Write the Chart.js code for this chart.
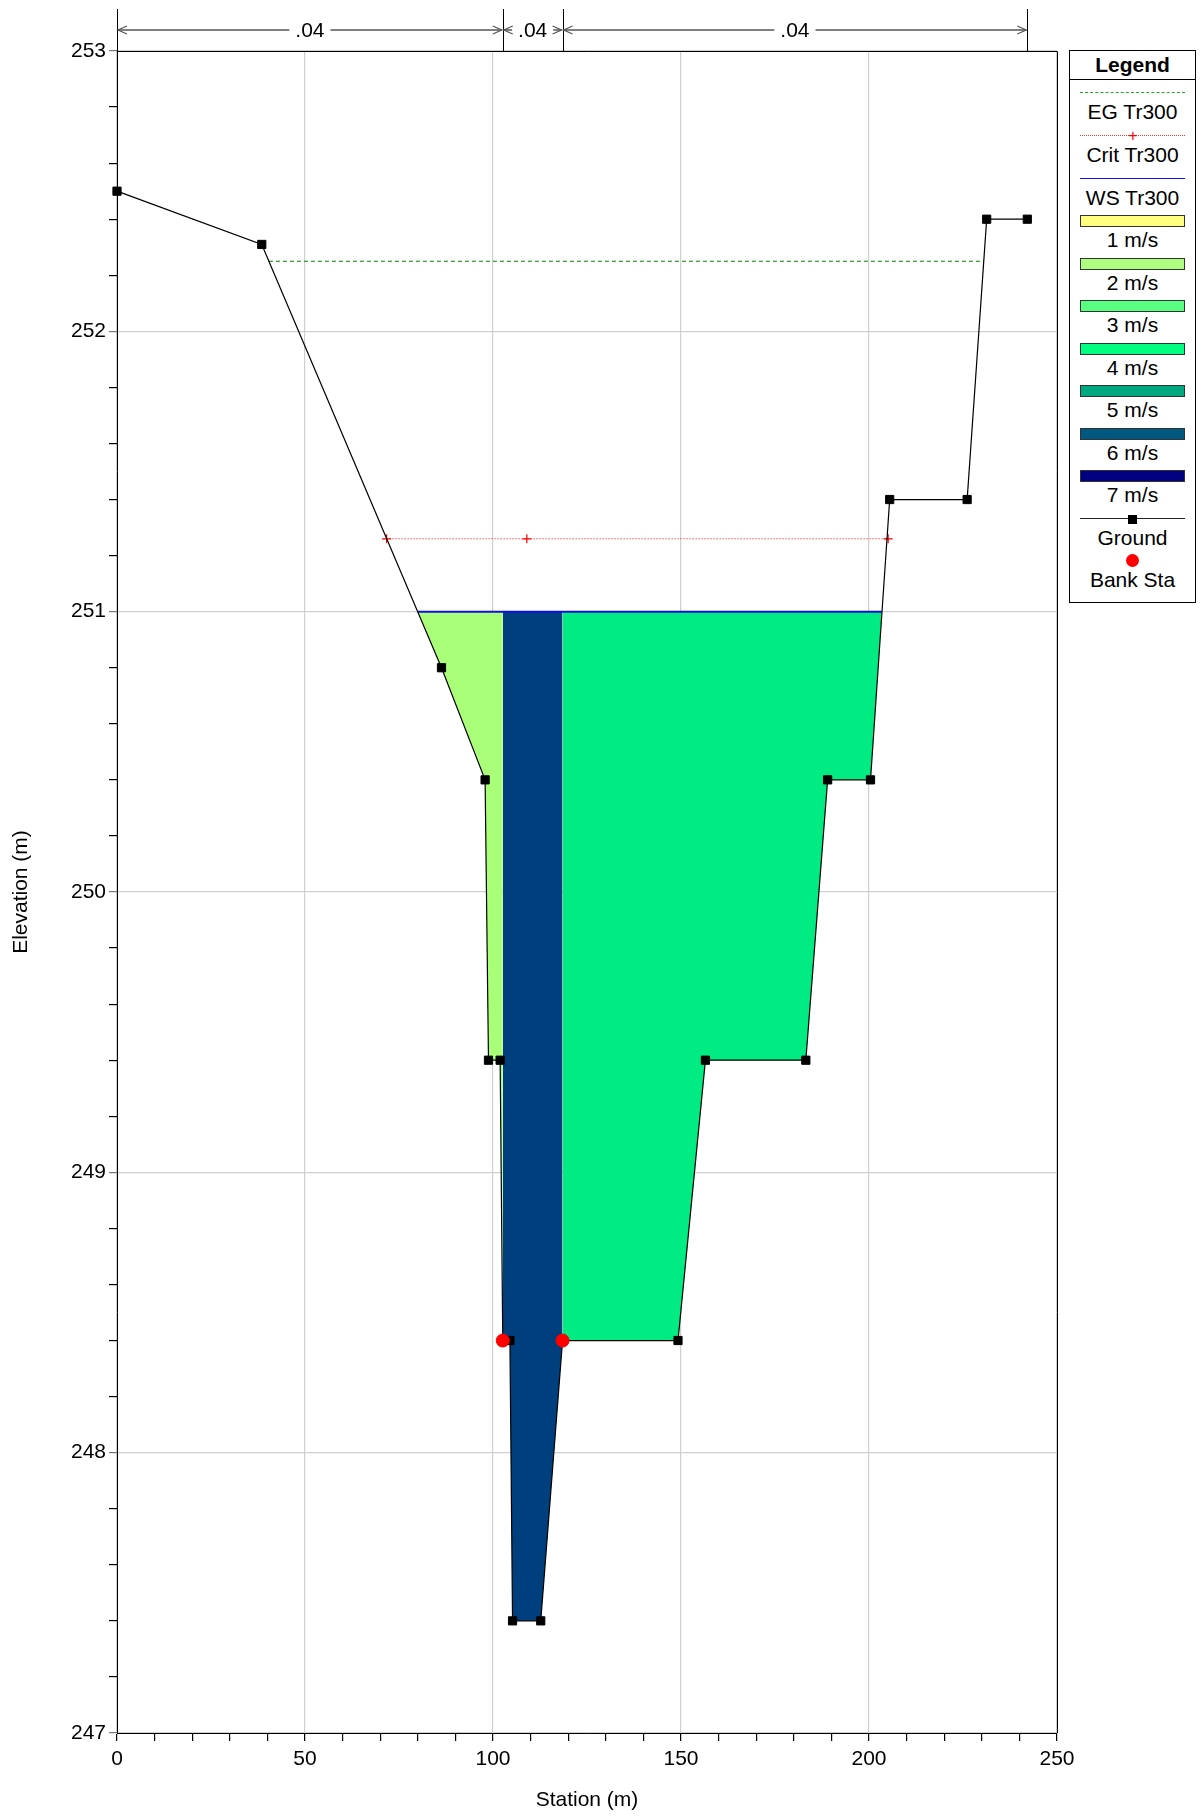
<!DOCTYPE html>
<html>
<head>
<meta charset="utf-8">
<script src="https://cdn.jsdelivr.net/npm/chart.js@4.4.1/dist/chart.umd.min.js"></script>
<style>
  html, body { margin: 0; padding: 0; background: #fff; }
  #wrap { position: relative; width: 1204px; height: 1816px; }
  #chart { position: absolute; left: 0; top: 0; }
  #legend {
    position: absolute; left: 1069px; top: 50px; width: 127px; height: 553px;
    border: 1px solid #000; box-sizing: border-box; background: #fff;
    font-family: 'Liberation Sans', Arial, sans-serif; font-size: 21px; color: #000;
  }
  #legend .head { height: 28px; line-height: 28px; text-align: center; font-weight: bold; border-bottom: 1px solid #000; }
  #legend .item { position: absolute; left: 0; width: 100%; height: 42px; }
  #legend .sw { position: absolute; left: 10px; width: 105px; }
  #legend .lbl { position: absolute; left: 0; width: 100%; top: 18px; height: 22px; line-height: 22px; text-align: center; }
</style>
</head>
<body>
<div id="wrap">
  <canvas id="chart" width="1204" height="1816"></canvas>
  <div id="legend"><div class="head">Legend</div></div>
</div>
<script>
// Cross section plot: ground profile, water surface, EG and critical lines,
// velocity fill zones between bank stations.

// ── data ─────────────────────────────────────────────────────────────────────
const groundSta  = [0, 38.5, 86.3, 97.9, 98.8, 101.9, 102.6, 104.5, 105.2, 112.7,
                    118.5, 149.2, 156.5, 183.2, 189.0, 200.4, 205.5, 226.1, 231.3, 242.1];
const groundElev = [252.50, 252.31, 250.80, 250.40, 249.40, 249.40, 248.40, 248.40, 247.40, 247.40,
                    248.40, 248.40, 249.40, 249.40, 250.40, 250.40, 251.40, 251.40, 252.40, 252.40];

const bankSta  = [102.6, 118.5];
const bankElev = [248.40, 248.40];

const wsElev   = 251.00;
const wsSta    = [79.9, 203.4];
const egElev   = 252.25;
const egSta    = [40.4, 230.5];
const critElev = 251.26;
const critSta  = [71.7, 109.0, 205.1];

// Manning's n across the section
const nBreaks = [0, 102.6, 118.5, 242.1];
const nValues = [".04", ".04", ".04"];

// fill colour for left overbank / channel / right overbank
const zoneColors = ["#AAFF78", "#003F7D", "#00EB81"];

// legend
const velLabels = ["1 m/s", "2 m/s", "3 m/s", "4 m/s", "5 m/s", "6 m/s", "7 m/s"];
const velColors = ["#FFFF80", "#AEFF80", "#58FF80", "#00FF80", "#00A880", "#005880", "#000080"];

const FONT = "'Liberation Sans', Arial, sans-serif";
Chart.defaults.font.family = FONT;
Chart.defaults.font.size = 21;
Chart.defaults.color = "#000";

// ── build zones from the ground profile ──────────────────────────────────────
const ground = groundSta.map((s, i) => ({ x: s, y: groundElev[i] }));

const leftZone = [{ x: wsSta[0], y: wsElev }]
  .concat(ground.filter(p => p.x > wsSta[0] && p.x <= bankSta[0]));
const channelZone = ground.filter(p => p.x >= bankSta[0] && p.x <= bankSta[1]);
const rightZone = ground.filter(p => p.x >= bankSta[1] && p.x < wsSta[1])
  .concat([{ x: wsSta[1], y: wsElev }]);

function zoneDataset(data, color) {
  return {
    data, showLine: true, borderWidth: 0, pointRadius: 0,
    backgroundColor: color, fill: { value: wsElev }, order: 10,
  };
}

// ── plugins: plot frame + Manning's n bar across the top ─────────────────────
const framePlugin = {
  id: "frame",
  afterDraw(chart) {
    const { ctx, chartArea: a } = chart;
    ctx.save();
    ctx.strokeStyle = "#000";
    ctx.lineWidth = 1;
    ctx.beginPath();
    ctx.moveTo(a.left, a.top + 0.5);
    ctx.lineTo(a.right + 0.5, a.top + 0.5);
    ctx.lineTo(a.right + 0.5, a.bottom);
    ctx.stroke();
    ctx.restore();
  },
};

const nBarPlugin = {
  id: "nbar",
  afterDraw(chart) {
    const { ctx, chartArea: a } = chart;
    const xs = chart.scales.x;
    const yBar = 30, yTop = 9;
    ctx.save();
    ctx.font = "21px " + FONT;
    ctx.textAlign = "center";
    ctx.textBaseline = "middle";

    // vertical separators
    ctx.strokeStyle = "#000";
    ctx.lineWidth = 1;
    nBreaks.forEach(b => {
      const px = Math.round(xs.getPixelForValue(b)) + 0.5;
      ctx.beginPath();
      ctx.moveTo(px, yTop);
      ctx.lineTo(px, a.top);
      ctx.stroke();
    });

    nValues.forEach((txt, i) => {
      const x1 = xs.getPixelForValue(nBreaks[i]) + 1;
      const x2 = xs.getPixelForValue(nBreaks[i + 1]) - 1;
      const mid = (x1 + x2) / 2;
      const half = ctx.measureText(txt).width / 2 + 6;
      ctx.strokeStyle = "#808080";
      ctx.lineWidth = 2;
      ctx.beginPath();
      ctx.moveTo(x1, yBar); ctx.lineTo(mid - half, yBar);
      ctx.moveTo(mid + half, yBar); ctx.lineTo(x2, yBar);
      ctx.stroke();
      // open arrowheads
      ctx.lineWidth = 1.2;
      ctx.strokeStyle = "#555";
      ctx.beginPath();
      ctx.moveTo(x1 + 9, yBar - 4); ctx.lineTo(x1, yBar); ctx.lineTo(x1 + 9, yBar + 4);
      ctx.moveTo(x2 - 9, yBar - 4); ctx.lineTo(x2, yBar); ctx.lineTo(x2 - 9, yBar + 4);
      ctx.stroke();
      ctx.fillStyle = "#000";
      ctx.fillText(txt, mid, yBar + 1);
    });
    ctx.restore();
  },
};

const isInt = v => Math.abs(v - Math.round(v)) < 1e-6;

new Chart(document.getElementById("chart"), {
  type: "scatter",
  data: {
    datasets: [
      {
        label: "Bank Sta",
        data: bankSta.map((s, i) => ({ x: s, y: bankElev[i] })),
        pointStyle: "circle", pointRadius: 6.5,
        pointBackgroundColor: "#FF0000", pointBorderColor: "#FF0000",
        order: 0, clip: 12,
      },
      {
        label: "Ground",
        data: ground, showLine: true,
        borderColor: "#000", borderWidth: 1.2,
        pointStyle: "rect", pointRadius: 5.8,
        pointBackgroundColor: "#000", pointBorderColor: "#000", pointBorderWidth: 1,
        order: 1, clip: 12,
      },
      {
        label: "Crit Tr300",
        data: critSta.map(s => ({ x: s, y: critElev })), showLine: true,
        borderColor: "#FF0000", borderWidth: 1, borderDash: [1, 2],
        pointStyle: "cross", pointRadius: 4.5,
        pointBorderColor: "#FF0000", pointBorderWidth: 1.2,
        order: 3,
      },
      {
        label: "WS Tr300",
        data: wsSta.map(s => ({ x: s, y: wsElev })), showLine: true,
        borderColor: "#1010E0", borderWidth: 2, pointRadius: 0,
        order: 4,
      },
      {
        label: "EG Tr300",
        data: egSta.map(s => ({ x: s, y: egElev })), showLine: true,
        borderColor: "#008000", borderWidth: 1.2, borderDash: [4, 3], pointRadius: 0,
        order: 4,
      },
      zoneDataset(leftZone, zoneColors[0]),
      zoneDataset(channelZone, zoneColors[1]),
      zoneDataset(rightZone, zoneColors[2]),
    ],
  },
  options: {
    responsive: false,
    animation: false,
    layout: { padding: { top: 51, right: 147, bottom: 0, left: 0 } },
    plugins: { legend: { display: false }, tooltip: { enabled: false } },
    scales: {
      x: {
        type: "linear", min: 0, max: 250,
        afterFit: s => { s.height = 83; },
        border: { color: "#000", width: 1 },
        grid: {
          color: c => (c.tick && c.tick.value % 50 === 0) ? "#CFCFCF" : "rgba(0,0,0,0)",
          tickColor: "#000", tickLength: 8, lineWidth: 1.2,
        },
        ticks: {
          stepSize: 10, autoSkip: false, maxRotation: 0, padding: 6,
          callback: v => (v % 50 === 0 ? String(v) : ""),
        },
        title: { display: true, text: "Station (m)", padding: { top: 0, bottom: 3 } },
      },
      y: {
        type: "linear", min: 247, max: 253,
        afterFit: s => { s.width = 117; },
        border: { color: "#000", width: 1 },
        grid: {
          color: c => (c.tick && isInt(c.tick.value)) ? "#CFCFCF" : "rgba(0,0,0,0)",
          tickColor: c => (c.tick && isInt(c.tick.value)) ? "#777" : "#000",
          tickLength: 8, lineWidth: 1.2,
        },
        ticks: {
          stepSize: 0.2, autoSkip: false, padding: 3,
          callback: v => (isInt(v) ? String(Math.round(v)) : ""),
        },
        title: { display: true, text: "Elevation (m)", padding: { top: 9, bottom: 0 } },
      },
    },
  },
  plugins: [framePlugin, nBarPlugin],
});

// ── legend box ───────────────────────────────────────────────────────────────
const legendBox = document.getElementById("legend");
const items = [
  { label: "EG Tr300", kind: "dash" },
  { label: "Crit Tr300", kind: "crit" },
  { label: "WS Tr300", kind: "ws" },
  ...velLabels.map((l, i) => ({ label: l, kind: "box", color: velColors[i] })),
  { label: "Ground", kind: "ground" },
  { label: "Bank Sta", kind: "bank" },
];
items.forEach((it, i) => {
  const el = document.createElement("div");
  el.className = "item";
  el.style.top = (32.4 + i * 42.55) + "px";
  let sw = "";
  if (it.kind === "dash") {
    sw = '<div class="sw" style="top:9px;border-top:1.5px dashed #22AA22"></div>';
  } else if (it.kind === "crit") {
    sw = '<div class="sw" style="top:9px;border-top:1px dotted #FF3030"></div>' +
         '<div style="position:absolute;left:58px;top:0;width:10px;height:20px;line-height:20px;color:#F00;font-size:16px;text-align:center">+</div>';
  } else if (it.kind === "ws") {
    sw = '<div class="sw" style="top:9px;border-top:1.5px solid #1010E0"></div>';
  } else if (it.kind === "box") {
    sw = '<div class="sw" style="top:4px;height:12px;box-sizing:border-box;border:1px solid #333;background:' + it.color + '"></div>';
  } else if (it.kind === "ground") {
    sw = '<div class="sw" style="top:9px;border-top:1.5px solid #222"></div>' +
         '<div style="position:absolute;left:58px;top:6px;width:9px;height:9px;background:#000"></div>';
  } else if (it.kind === "bank") {
    sw = '<div style="position:absolute;left:56px;top:3px;width:13px;height:13px;border-radius:50%;background:#F00"></div>';
  }
  el.innerHTML = sw + '<div class="lbl">' + it.label + '</div>';
  legendBox.appendChild(el);
});
</script>
</body>
</html>
